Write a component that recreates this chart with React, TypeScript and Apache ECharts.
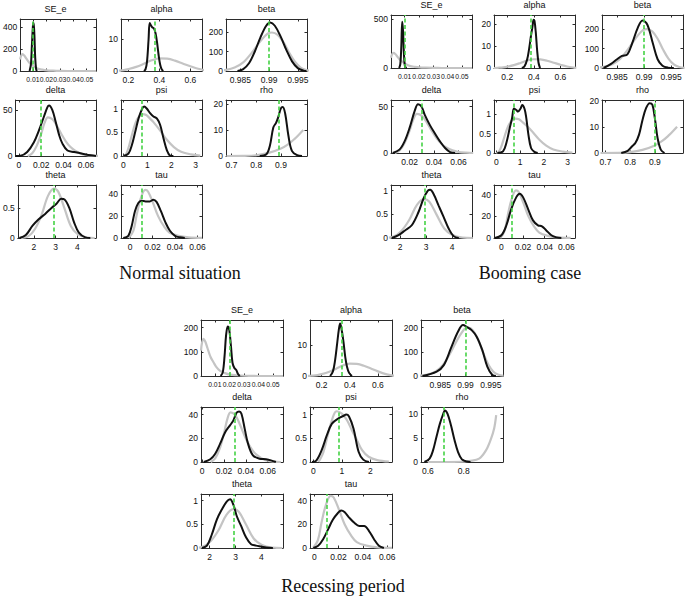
import React, { useEffect, useRef } from "react";
import * as echarts from "echarts";

// ---------- parameter names ----------
const titles = ["SE_e", "alpha", "beta", "delta", "psi", "rho", "theta", "tau"];

// ---------- prior densities (grey) ----------
const priorSEe = [[0.0005, 105], [0.0012, 138], [0.0023, 154], [0.0035, 142], [0.005, 115], [0.007, 80], [0.0093, 55], [0.011, 38], [0.0135, 22], [0.017, 12], [0.0205, 6], [0.025, 3], [0.03, 1], [0.036, 0.2], [0.045, 0], [0.057, 0]];
const priorAlpha = [[0.1, 0], [0.13, 0.1], [0.17, 0.3], [0.2, 0.6], [0.25, 1.3], [0.3, 2.3], [0.35, 3.4], [0.4, 4.0], [0.45, 3.9], [0.5, 3.3], [0.55, 2.4], [0.6, 1.5], [0.65, 0.7], [0.7, 0.2], [0.72, 0.1]];
const priorBeta = [[0.981, 2], [0.9825, 6], [0.984, 18], [0.9855, 45], [0.987, 95], [0.9885, 155], [0.9898, 195], [0.9905, 200], [0.9915, 188], [0.9925, 150], [0.9935, 95], [0.9945, 48], [0.9955, 18], [0.9965, 5], [0.9975, 1]];
const priorDelta = [[0.008, 0], [0.012, 3], [0.016, 11], [0.02, 24], [0.023, 36], [0.026, 42], [0.03, 40], [0.034, 33], [0.038, 24], [0.042, 16], [0.046, 10], [0.05, 6], [0.055, 2.8], [0.06, 1.1], [0.066, 0.3], [0.072, 0]];
const priorPsi = [[0, 0], [0.1, 0.03], [0.2, 0.15], [0.35, 0.44], [0.5, 0.7], [0.65, 0.84], [0.8, 0.89], [0.95, 0.87], [1.1, 0.8], [1.25, 0.72], [1.5, 0.56], [1.8, 0.35], [2.1, 0.19], [2.4, 0.09], [2.8, 0.035], [3.2, 0.01]];
const priorPsiR = [[0.18, 0], [0.35, 0.21], [0.53, 0.63], [0.71, 0.99], [0.82, 1.07], [1.0, 1.02], [1.18, 0.88], [1.35, 0.67], [1.53, 0.46], [1.71, 0.25], [1.94, 0.11], [2.24, 0.04], [2.65, 0.01]];
const priorRho = [[0.68, 0], [0.75, 0.05], [0.8, 0.3], [0.85, 1.2], [0.9, 2.9], [0.93, 4.6], [0.955, 6.6], [0.975, 8.5], [0.99, 10]];
const priorRhoR = [[0.6, 0], [0.8, 0.05], [0.83, 0.2], [0.886, 0.7], [0.924, 2.4], [0.952, 4.8], [0.97, 7], [0.981, 9.7]];
const priorTheta = [[1.4, 0], [1.75, 0.03], [2.05, 0.15], [2.35, 0.38], [2.65, 0.7], [2.92, 0.82], [3.12, 0.77], [3.4, 0.5], [3.7, 0.2], [4.0, 0.07], [4.4, 0.01], [4.8, 0]];
const priorTau = [[-0.001, 0], [0.003, 6.6], [0.006, 21.5], [0.0095, 36], [0.0135, 44], [0.016, 42.5], [0.0205, 32], [0.025, 20], [0.03, 11], [0.035, 5], [0.043, 2], [0.052, 0.6], [0.064, 0.1]];

// ---------- posterior densities (black): Normal situation ----------
const nSEePost = [[0.0075, 0], [0.0085, 60], [0.0093, 250], [0.01, 410], [0.0105, 440], [0.0111, 330], [0.0117, 120], [0.0124, 15], [0.013, 0]];
const nAlphaPost = [[0.3, 0], [0.31, 0.5], [0.32, 3], [0.33, 10], [0.337, 15.2], [0.345, 14.5], [0.355, 13.8], [0.365, 13.5], [0.375, 12], [0.385, 9], [0.395, 5], [0.405, 2], [0.415, 0.5], [0.425, 0]];
const nBetaPost = [[0.9845, 0], [0.9855, 10], [0.9865, 40], [0.9875, 100], [0.9885, 175], [0.9895, 235], [0.9902, 252], [0.991, 235], [0.992, 180], [0.993, 110], [0.994, 50], [0.995, 15], [0.996, 2], [0.9965, 0]];
const nDeltaPost = [[-0.003, 0], [0.0015, 0.3], [0.0075, 4.4], [0.0135, 15], [0.018, 28], [0.0225, 43], [0.0255, 53], [0.027, 55], [0.03, 50], [0.033, 37], [0.036, 23], [0.039, 13.5], [0.0435, 6], [0.0495, 4.4], [0.057, 2.5], [0.0645, 0.7], [0.069, 0]];
const nPsiPost = [[0, 0], [0.21, 0.05], [0.35, 0.23], [0.49, 0.51], [0.63, 0.8], [0.76, 0.98], [0.86, 1.05], [0.97, 1.01], [1.11, 0.91], [1.25, 0.84], [1.39, 0.8], [1.53, 0.66], [1.67, 0.37], [1.81, 0.12], [1.94, 0.01], [2.08, 0]];
const nRhoPost = [[0.814, 0], [0.841, 0.7], [0.855, 3.9], [0.869, 11], [0.88, 12.8], [0.889, 15], [0.899, 18.3], [0.907, 18.9], [0.917, 16.3], [0.93, 7.8], [0.944, 2], [0.965, 0.3], [0.985, 0]];
const nThetaPost = [[1.33, 0], [1.63, 0.05], [1.93, 0.2], [2.22, 0.31], [2.52, 0.4], [2.81, 0.5], [3.04, 0.57], [3.26, 0.65], [3.41, 0.64], [3.63, 0.5], [3.85, 0.26], [4.07, 0.09], [4.37, 0.01], [4.6, 0]];
const nTauPost = [[-0.006, 0], [-0.0015, 2], [0.0015, 11], [0.0044, 24.5], [0.0074, 32], [0.0103, 34], [0.0139, 33.4], [0.0177, 33.4], [0.0207, 35], [0.0236, 33], [0.0275, 24.5], [0.0316, 14], [0.0355, 6.6], [0.04, 2], [0.0443, 0.6], [0.0487, 0]];

// ---------- posterior densities (black): Booming case ----------
const bSEePost = [[0.0062, 0], [0.007, 40], [0.0077, 220], [0.0083, 470], [0.0089, 380], [0.0095, 150], [0.0101, 30], [0.0108, 5], [0.0115, 0]];
const bAlphaPost = [[0.31, 0], [0.33, 0.8], [0.35, 4], [0.365, 9], [0.378, 14.5], [0.39, 19], [0.398, 22], [0.405, 21.5], [0.415, 16], [0.425, 8], [0.435, 2.5], [0.445, 0.3], [0.45, 0]];
const bBetaPost = [[0.9825, 0], [0.9838, 20], [0.985, 45], [0.9859, 62], [0.9869, 70], [0.9878, 128], [0.9888, 205], [0.9897, 244], [0.9906, 222], [0.9916, 128], [0.9925, 45], [0.9934, 12], [0.9944, 2], [0.9955, 0]];
const bDeltaPost = [[0.0062, 0], [0.0117, 3.6], [0.0159, 12.5], [0.02, 27], [0.0241, 45], [0.0269, 52.5], [0.0297, 50], [0.0324, 41], [0.0366, 30], [0.0407, 21], [0.0448, 12.5], [0.049, 5.4], [0.0531, 1], [0.0572, 0]];
const bPsiPost = [[0.04, 0], [0.28, 0.04], [0.42, 0.26], [0.56, 0.64], [0.66, 0.9], [0.74, 1.15], [0.84, 1.11], [0.91, 1.07], [1.02, 1.15], [1.09, 1.24], [1.19, 1.13], [1.26, 0.9], [1.35, 0.47], [1.46, 0.13], [1.6, 0.03], [1.74, 0]];
const bRhoPost = [[0.764, 0], [0.79, 0.8], [0.807, 2.5], [0.821, 3.8], [0.836, 7], [0.85, 12.6], [0.864, 17], [0.879, 19], [0.89, 18.4], [0.9, 13.3], [0.911, 5.7], [0.924, 1.3], [0.939, 0]];
const bThetaPost = [[1.68, 0], [1.94, 0.06], [2.19, 0.16], [2.45, 0.27], [2.71, 0.55], [2.9, 0.83], [3.07, 1.0], [3.16, 1.02], [3.29, 0.93], [3.48, 0.69], [3.68, 0.44], [3.87, 0.2], [4.06, 0.04], [4.26, 0]];
const bTauPost = [[-0.006, 0], [0, 2.5], [0.0046, 11.7], [0.0092, 27], [0.0138, 37.8], [0.0169, 41], [0.02, 37.8], [0.0246, 27], [0.0292, 16.3], [0.0338, 11.7], [0.0375, 10.8], [0.0415, 7], [0.0462, 2.5], [0.0508, 0.6], [0.0554, 0]];

// ---------- posterior densities (black): Recessing period ----------
const rSEePost = [[0.014, 0], [0.0155, 15], [0.0167, 80], [0.0178, 170], [0.0189, 205], [0.02, 190], [0.0212, 120], [0.0222, 55], [0.0235, 33], [0.0248, 25], [0.026, 8], [0.0272, 0]];
const rAlphaPost = [[0.26, 0], [0.28, 1.5], [0.295, 5], [0.31, 10.5], [0.322, 15], [0.331, 17], [0.34, 15.5], [0.355, 11], [0.368, 6], [0.38, 3], [0.395, 1], [0.415, 0]];
const rBetaPost = [[0.9815, 0], [0.9843, 18], [0.9857, 45], [0.9871, 114], [0.9885, 183], [0.9895, 211], [0.9902, 204], [0.9912, 190], [0.9922, 163], [0.9933, 108], [0.9943, 39], [0.9953, 4], [0.996, 0]];
const rDeltaPost = [[0.0015, 0], [0.0075, 2.3], [0.012, 7], [0.0165, 15.5], [0.021, 25], [0.0255, 31], [0.0285, 35], [0.0315, 41.7], [0.0339, 42.8], [0.036, 40.8], [0.039, 28], [0.042, 15.5], [0.0465, 5.6], [0.0525, 2.8], [0.0585, 2.3], [0.063, 1.4], [0.0675, 0]];
const rPsiPost = [[-0.05, 0], [0.1, 0.03], [0.29, 0.25], [0.47, 0.56], [0.65, 0.81], [0.88, 0.92], [1.05, 0.97], [1.15, 1.0], [1.25, 0.96], [1.41, 0.7], [1.59, 0.21], [1.75, 0.05], [1.95, 0]];
const rRhoPost = [[0.581, 0], [0.61, 0.7], [0.629, 2.4], [0.648, 5.2], [0.667, 7.9], [0.686, 10], [0.695, 10.7], [0.71, 10], [0.729, 7.6], [0.749, 4.5], [0.768, 2.1], [0.79, 0.55], [0.819, 0.1], [0.838, 0]];
const rThetaPost = [[1.71, 0], [1.9, 0.05], [2.09, 0.29], [2.28, 0.6], [2.47, 0.81], [2.66, 0.98], [2.79, 1.03], [2.92, 0.91], [3.05, 0.67], [3.22, 0.46], [3.41, 0.22], [3.6, 0.08], [3.79, 0.05], [3.99, 0.03], [4.18, 0.01], [4.44, 0]];
const rTauPost = [[-0.0008, 0], [0.0032, 1.9], [0.0073, 7.4], [0.0114, 15.7], [0.0154, 24], [0.0195, 29.5], [0.0222, 31.7], [0.0249, 30.3], [0.0289, 25.4], [0.033, 21.2], [0.037, 18.5], [0.0411, 18.5], [0.0451, 14.3], [0.0492, 7.4], [0.0532, 1.9], [0.0573, 0]];

// ---------- green dashed reference values ----------
const nGreen = [0.0095, 0.368, 0.9901, 0.0246, 0.76, 0.892, 2.92, 0.0139];
const bGreen = [0.0079, 0.381, 0.9903, 0.0275, 0.73, 0.895, 2.94, 0.0148];
const rGreen = [0.019, 0.336, 0.9895, 0.027, 0.88, 0.695, 2.92, 0.014];

// ---------- axis ranges & ticks ----------
const nXMin = [0.0005, 0.152, 0.9825, -0.003, -0.1, 0.678, 1.26, -0.008];
const nXMax = [0.057, 0.675, 0.9966, 0.069, 3.27, 1.005, 4.86, 0.064];
const nYMax = [475, 16.5, 270, 61, 1.19, 21.6, 0.88, 48.4];
const bXMin = [0.0005, 0.1, 0.9822, 0.0048, -0.1, 0.686, 1.65, -0.0068];
const bXMax = [0.057, 0.71, 0.9972, 0.071, 3.31, 1.014, 4.77, 0.068];
const bYMax = [540, 24.2, 272, 57, 1.37, 20.2, 1.12, 49];
const rXMin = [0.0005, 0.117, 0.9812, -0.001, -0.12, 0.562, 1.67, -0.0035];
const rXMax = [0.057, 0.7, 0.9974, 0.074, 2.76, 1.019, 4.83, 0.064];
const rYMax = [232, 18.1, 232, 46.5, 1.16, 11.4, 1.14, 45.5];

const nXTicks = [[0.01, 0.02, 0.03, 0.04, 0.05], [0.2, 0.4, 0.6], [0.985, 0.99, 0.995], [0, 0.02, 0.04, 0.06], [0, 1, 2, 3], [0.7, 0.8, 0.9], [2, 3, 4], [0, 0.02, 0.04, 0.06]];
const bXTicks = [[0.01, 0.02, 0.03, 0.04, 0.05], [0.2, 0.4, 0.6], [0.985, 0.99, 0.995], [0.02, 0.04, 0.06], [0, 1, 2, 3], [0.7, 0.8, 0.9], [2, 3, 4], [0, 0.02, 0.04, 0.06]];
const rXTicks = [[0.01, 0.02, 0.03, 0.04, 0.05], [0.2, 0.4, 0.6], [0.985, 0.99, 0.995], [0, 0.02, 0.04, 0.06], [0, 1, 2], [0.6, 0.8], [2, 3, 4], [0, 0.02, 0.04, 0.06]];
const nYTicks = [[0, 200, 400], [0, 10], [0, 100, 200], [0, 50], [0, 0.5, 1], [0, 10, 20], [0, 0.5], [0, 20, 40]];
const bYTicks = [[0, 500], [0, 10, 20], [0, 100, 200], [0, 50], [0, 0.5, 1], [0, 10, 20], [0, 0.5, 1], [0, 20, 40]];
const rYTicks = [[0, 100, 200], [0, 10], [0, 100, 200], [0, 20, 40], [0, 0.5, 1], [0, 5, 10], [0, 0.5, 1], [0, 20, 40]];

const captions = ["Normal situation", "Booming case", "Recessing period"];

// ---------- assembling ----------
const groups = [
  {
    priors: [priorSEe, priorAlpha, priorBeta, priorDelta, priorPsi, priorRho, priorTheta, priorTau],
    posts: [nSEePost, nAlphaPost, nBetaPost, nDeltaPost, nPsiPost, nRhoPost, nThetaPost, nTauPost],
    green: nGreen, xMin: nXMin, xMax: nXMax, yMax: nYMax, xTicks: nXTicks, yTicks: nYTicks,
    lefts: [15, 121, 226], tops: [19, 100, 185], heights: [52, 56, 53], width: 81,
    cap: [180, 273],
  },
  {
    priors: [priorSEe, priorAlpha, priorBeta, priorDelta, priorPsi, priorRho, priorTheta, priorTau],
    posts: [bSEePost, bAlphaPost, bBetaPost, bDeltaPost, bPsiPost, bRhoPost, bThetaPost, bTauPost],
    green: bGreen, xMin: bXMin, xMax: bXMax, yMax: bYMax, xTicks: bXTicks, yTicks: bYTicks,
    lefts: [391, 494, 602], tops: [15, 100, 185], heights: [53, 53, 53], width: 81,
    cap: [530, 273],
  },
  {
    priors: [priorSEe, priorAlpha, priorBeta, priorDelta, priorPsiR, priorRhoR, priorTheta, priorTau],
    posts: [rSEePost, rAlphaPost, rBetaPost, rDeltaPost, rPsiPost, rRhoPost, rThetaPost, rTauPost],
    green: rGreen, xMin: rXMin, xMax: rXMax, yMax: rYMax, xTicks: rXTicks, yTicks: rYTicks,
    lefts: [201, 310, 421], tops: [320, 407, 494], heights: [56, 55, 54], width: 82,
    cap: [343, 586],
  },
];

const ROW = [0, 0, 0, 1, 1, 1, 2, 2];
const COL = [0, 1, 2, 0, 1, 2, 0, 1];
const AXIS_COLOR = "#2b2b2b";
const FONT = "Liberation Sans, Arial, Helvetica, sans-serif";
const fmt = (v: number) => String(parseFloat(Number(v).toPrecision(6)));

function buildOption() {
  const grid: any[] = [];
  const xAxis: any[] = [];
  const yAxis: any[] = [];
  const series: any[] = [];
  const graphic: any[] = [];

  groups.forEach((g) => {
    for (let i = 0; i < 8; i++) {
      const k = grid.length;
      const left = g.lefts[COL[i]];
      const top = g.tops[ROW[i]];
      const height = g.heights[ROW[i]];
      grid.push({ left, top, width: g.width, height, containLabel: false });

      const tickCommon = (vals: number[]) => ({
        show: true, inside: true, length: 2.5, customValues: vals,
        lineStyle: { color: AXIS_COLOR, width: 1 },
      });
      const lineCommon = { show: true, onZero: false, lineStyle: { color: AXIS_COLOR, width: 1 } };
      const crowded = g.xTicks[i].length > 4;

      xAxis.push({
        type: "value", gridIndex: k, position: "bottom", min: g.xMin[i], max: g.xMax[i],
        axisLine: lineCommon, axisTick: tickCommon(g.xTicks[i]), splitLine: { show: false },
        axisLabel: {
          customValues: g.xTicks[i], formatter: fmt, fontSize: crowded ? 6.8 : 8.5, color: "#111",
          margin: crowded ? 5 : 4, fontFamily: FONT, hideOverlap: false, showMinLabel: true, showMaxLabel: true,
        },
      });
      xAxis.push({
        type: "value", gridIndex: k, position: "top", min: g.xMin[i], max: g.xMax[i],
        axisLine: lineCommon, axisTick: tickCommon(g.xTicks[i]), splitLine: { show: false },
        axisLabel: { show: false },
      });
      yAxis.push({
        type: "value", gridIndex: k, position: "left", min: 0, max: g.yMax[i],
        axisLine: lineCommon, axisTick: tickCommon(g.yTicks[i]), splitLine: { show: false },
        axisLabel: {
          customValues: g.yTicks[i], formatter: fmt, fontSize: 8.5, color: "#111", margin: 3,
          fontFamily: FONT, showMinLabel: true, showMaxLabel: true,
        },
      });
      yAxis.push({
        type: "value", gridIndex: k, position: "right", min: 0, max: g.yMax[i],
        axisLine: lineCommon, axisTick: tickCommon(g.yTicks[i]), splitLine: { show: false },
        axisLabel: { show: false },
      });

      series.push({
        type: "line", xAxisIndex: 2 * k, yAxisIndex: 2 * k, data: g.priors[i],
        showSymbol: false, smooth: 0.35, clip: true, z: 2,
        lineStyle: { color: "#c4c4c4", width: 2.2 },
      });
      series.push({
        type: "line", xAxisIndex: 2 * k, yAxisIndex: 2 * k, data: g.posts[i],
        showSymbol: false, smooth: 0.35, clip: true, z: 3,
        lineStyle: { color: "#111", width: 2 },
        markLine: {
          silent: true, symbol: ["none", "none"], label: { show: false },
          lineStyle: { color: "#45d245", width: 1.6, type: [4, 2.5] },
          emphasis: { disabled: true },
          data: [{ xAxis: g.green[i] }],
        },
      });

      graphic.push({
        type: "text", x: left + g.width / 2, y: top - 10,
        style: { text: titles[i], fontSize: 9, fill: "#111", fontFamily: FONT, textAlign: "center", textVerticalAlign: "middle" },
      });
    }
  });

  groups.forEach((g, gi) => {
    graphic.push({
      type: "text", x: g.cap[0], y: g.cap[1],
      style: { text: captions[gi], fontSize: 18, fill: "#111", fontFamily: "Liberation Serif, Times New Roman, serif", textAlign: "center", textVerticalAlign: "middle" },
    });
  });

  return { animation: false, backgroundColor: "#ffffff", grid, xAxis, yAxis, series, graphic };
}

export default function App() {
  const ref = useRef<HTMLDivElement>(null);
  useEffect(() => {
    const chart = echarts.init(ref.current!, null, { renderer: "svg" });
    chart.setOption(buildOption());
    return () => chart.dispose();
  }, []);
  return (
    <div
      ref={ref}
      style={{ position: "absolute", left: 0, top: 0, width: 685, height: 597, background: "#fff" }}
    />
  );
}
